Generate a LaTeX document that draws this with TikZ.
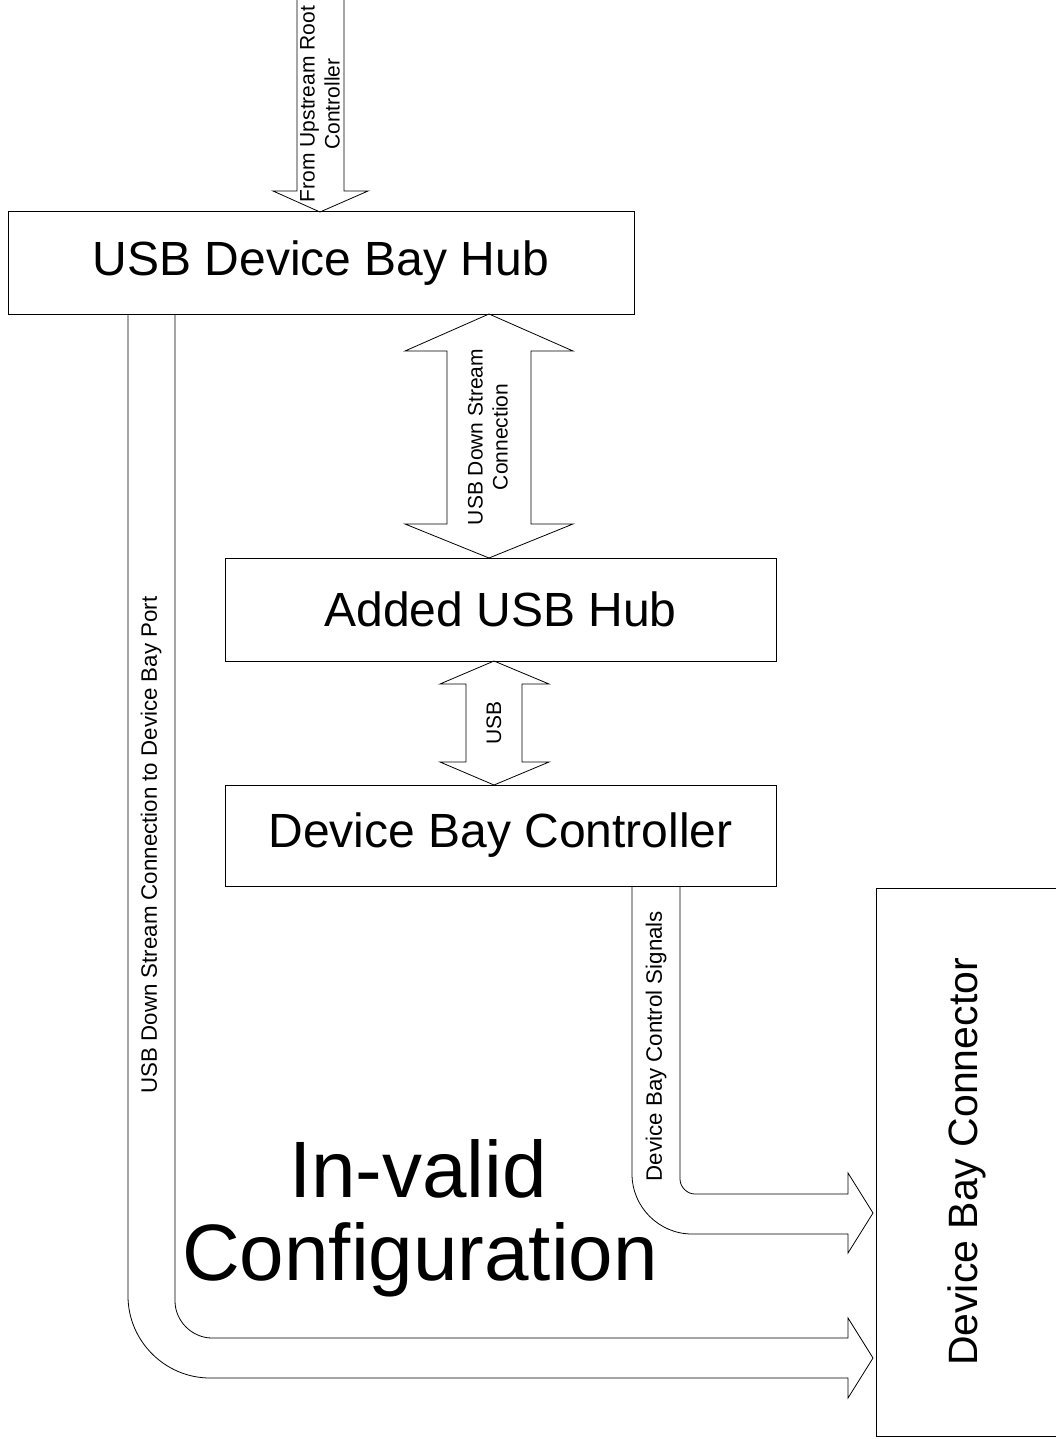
\documentclass[tikz,border=0pt]{standalone}
\usepackage{fontspec}
\setmainfont{Liberation Sans}
\begin{document}
\begin{tikzpicture}[x=1pt, y=-1pt, line join=miter,
  box/.style={draw, line width=1pt, inner sep=0pt, font=\fontsize{48}{56}\selectfont},
  fat/.style={draw, line width=0.8pt},
  tag/.style={rotate=90, align=center, inner sep=0pt, font=\fontsize{21}{25}\selectfont},
  longtag/.style={rotate=90, inner sep=0pt, font=\fontsize{22.3}{26}\selectfont},
  huge/.style={anchor=base, inner sep=0pt, font=\fontsize{80}{84}\selectfont}]
\useasboundingbox (0,0) rectangle (1056,1439);
\clip (0,0) rectangle (1056,1439);

% blocks
\node[box, minimum width=626pt, minimum height=102pt] (hub)   at (321,263)     {USB Device Bay Hub};
\node[box, minimum width=551pt, minimum height=103pt] (added) at (500.5,609.5) {Added USB Hub};
\node[box, minimum width=551pt, minimum height=101pt] (ctrl)  at (500.5,835.5) {Device Bay Controller};
\node[box, minimum width=200pt, minimum height=548pt] (conn)  at (976,1162)    {};
\node[rotate=90, inner sep=0pt, font=\fontsize{41}{48}\selectfont] (connlabel) at (967,1162) {Device Bay Connector};

% upstream feed into the hub
\draw[fat] (297,-2) -- (297,191) -- (273,191) -- (320,212) -- (368,191) -- (344,191) -- (344,-2);
\node[tag] (uplabel) at (320,104) {From Upstream Root\\Controller};

% hub <-> added hub
\draw[fat] (489,314) -- (573,351) -- (531,351) -- (531,524) -- (573,524) -- (489,558)
  -- (405,524) -- (447,524) -- (447,351) -- (405,351) -- cycle;
\node[tag] (dslabel) at (488,437) {USB Down Stream\\Connection};

% added hub <-> controller
\draw[fat] (494,661) -- (549,684) -- (522,684) -- (522,762) -- (549,762) -- (494,785)
  -- (440,762) -- (466,762) -- (466,684) -- (440,684) -- cycle;
\node[tag] (usblabel) at (494,723) {USB};

% control signals to the connector
\draw[fat] (632,886) -- (632,1174) .. controls (632,1207) and (659,1234) .. (692,1234)
  -- (848,1234) -- (848,1253) -- (873,1213) -- (848,1173) -- (848,1194) -- (695,1194)
  .. controls (687,1194) and (680,1187) .. (680,1179) -- (680,886);
\node[longtag] (ctllabel) at (656,1046) {Device Bay Control Signals};

% direct downstream port to the connector
\draw[fat] (128,314) -- (128,1296) .. controls (128,1341) and (165,1378) .. (210,1378)
  -- (848,1378) -- (848,1398) -- (873,1358) -- (848,1318) -- (848,1338) -- (212,1338)
  .. controls (192,1338) and (175,1321) .. (175,1301) -- (175,314);
\node[longtag] (portlabel) at (151,845) {USB Down Stream Connection to Device Bay Port};

% verdict
\node[huge] (invalidA) at (418,1197) {In-valid};
\node[huge] (invalidB) at (420,1280) {Configuration};
\end{tikzpicture}
\end{document}
